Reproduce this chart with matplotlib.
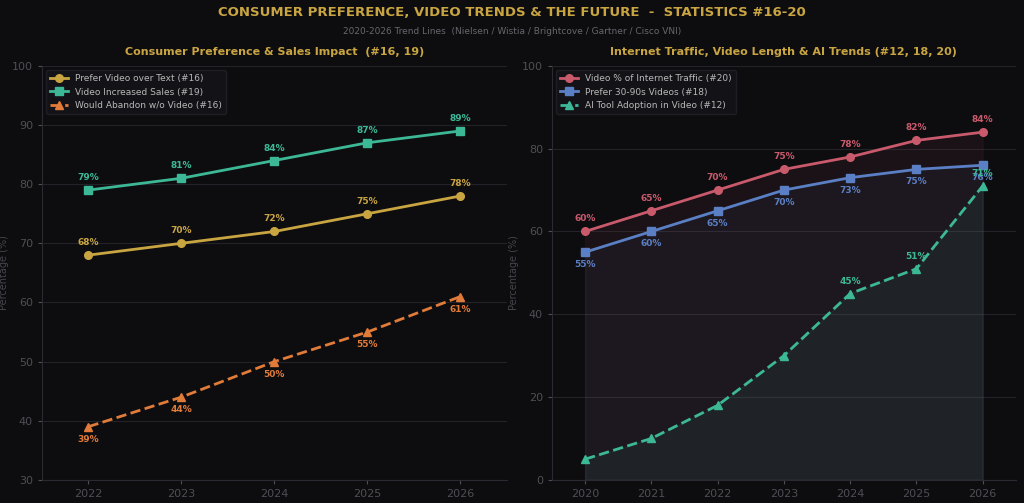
import matplotlib
matplotlib.use("Agg")
import matplotlib.pyplot as plt

# data
years_left = [2022, 2023, 2024, 2025, 2026]
prefer_video = [68, 70, 72, 75, 78]
increased_sales = [79, 81, 84, 87, 89]
would_abandon = [39, 44, 50, 55, 61]

years_right = [2020, 2021, 2022, 2023, 2024, 2025, 2026]
video_traffic = [60, 65, 70, 75, 78, 82, 84]
prefer_short = [55, 60, 65, 70, 73, 75, 76]
ai_adoption = [5, 10, 18, 30, 45, 51, 71]
ai_labelled_from = 2024  # reference only labels the later AI points

BG = "#0d0d10"
GOLD = "#c9a542"
TEAL = "#3db896"
ORANGE = "#e07b39"
RED = "#c95a6c"
BLUE = "#5b7fc4"
GRID = "#222228"
TICK = "#4e4e55"

plt.rcParams["font.family"] = "DejaVu Sans"


def style_axis(ax, xlim, ylim, yticks):
    ax.set_facecolor(BG)
    ax.set_xlim(*xlim)
    ax.set_ylim(*ylim)
    ax.set_yticks(yticks)
    ax.grid(axis="y", color=GRID, linewidth=0.8)
    ax.set_axisbelow(True)
    for s in ["top", "right"]:
        ax.spines[s].set_visible(False)
    for s in ["left", "bottom"]:
        ax.spines[s].set_color("#2a2a33")
    ax.tick_params(colors=TICK, labelsize=8, length=3)
    ax.set_ylabel("Percentage (%)", color="#45454c", fontsize=7, labelpad=2)


def label_points(ax, xs, ys, color, offset):
    for x, y in zip(xs, ys):
        ax.annotate(f"{y}%", (x, y), xytext=(0, offset), textcoords="offset points",
                    ha="center", va="center", color=color, fontsize=6.5, fontweight="bold")


fig = plt.figure(figsize=(10.24, 5.03), dpi=100, facecolor=BG)
ax1 = fig.add_axes([0.041, 0.046, 0.454, 0.823])
ax2 = fig.add_axes([0.539, 0.046, 0.453, 0.823])

fig.text(0.5, 0.976, "CONSUMER PREFERENCE, VIDEO TRENDS & THE FUTURE  -  STATISTICS #16-20",
         ha="center", va="center", color=GOLD, fontsize=9.5, fontweight="bold")
fig.text(0.5, 0.938, "2020-2026 Trend Lines  (Nielsen / Wistia / Brightcove / Gartner / Cisco VNI)",
         ha="center", va="center", color="#66666c", fontsize=6.5)

# left panel
style_axis(ax1, (2021.5, 2026.5), (30, 100), [30, 40, 50, 60, 70, 80, 90, 100])
ax1.set_xticks(years_left)
ax1.plot(years_left, prefer_video, "-o", color=GOLD, lw=2, ms=5.5, label="Prefer Video over Text (#16)")
ax1.plot(years_left, increased_sales, "-s", color=TEAL, lw=2, ms=5.5, label="Video Increased Sales (#19)")
ax1.plot(years_left, would_abandon, "--^", color=ORANGE, lw=2, ms=5.5, label="Would Abandon w/o Video (#16)")
label_points(ax1, years_left, prefer_video, GOLD, 9)
label_points(ax1, years_left, increased_sales, TEAL, 9)
label_points(ax1, years_left, would_abandon, ORANGE, -9)
ax1.set_title("Consumer Preference & Sales Impact  (#16, 19)", color=GOLD, fontsize=8,
              fontweight="bold", pad=8)
ax1.legend(loc="upper left", fontsize=6.5, facecolor="#131317", edgecolor="#1e1e24",
           labelcolor="#b8b8b8", framealpha=1)

# right panel
style_axis(ax2, (2019.5, 2026.5), (0, 100), [0, 20, 40, 60, 80, 100])
ax2.set_xticks(years_right)
ax2.fill_between(years_right, video_traffic, 0, color=RED, alpha=0.07)
ax2.fill_between(years_right, prefer_short, 0, color=BLUE, alpha=0.06)
ax2.fill_between(years_right, ai_adoption, 0, color=TEAL, alpha=0.07)
ax2.plot(years_right, video_traffic, "-o", color=RED, lw=2, ms=5.5, label="Video % of Internet Traffic (#20)")
ax2.plot(years_right, prefer_short, "-s", color=BLUE, lw=2, ms=5.5, label="Prefer 30-90s Videos (#18)")
ax2.plot(years_right, ai_adoption, "--^", color=TEAL, lw=2, ms=5.5, label="AI Tool Adoption in Video (#12)")
label_points(ax2, years_right, video_traffic, RED, 9)
label_points(ax2, years_right, prefer_short, BLUE, -9)
ai_pts = [(x, y) for x, y in zip(years_right, ai_adoption) if x >= ai_labelled_from]
label_points(ax2, [p[0] for p in ai_pts], [p[1] for p in ai_pts], TEAL, 9)
ax2.set_title("Internet Traffic, Video Length & AI Trends (#12, 18, 20)", color=GOLD, fontsize=8,
              fontweight="bold", pad=8)
ax2.legend(loc="upper left", fontsize=6.5, facecolor="#131317", edgecolor="#1e1e24",
           labelcolor="#b8b8b8", framealpha=1)

fig.savefig("out.png", dpi=100, facecolor=BG)
